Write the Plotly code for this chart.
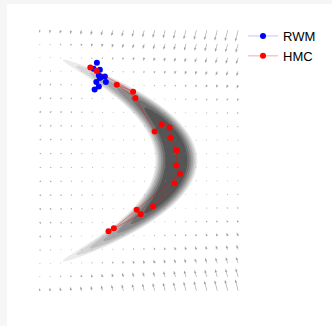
import numpy as np
import plotly.graph_objects as go

# ---------------- data ----------------
rwm_x = [-1.274, -1.373, -1.184, -1.214, -1.142, -1.184, -1.033, -1.003, -1.292, -1.214, -1.343]
rwm_y = [2.255, 2.116, 2.093, 1.961, 1.922, 1.904, 1.938, 1.807, 1.807, 1.708, 1.638]

hmc_x = [-1.473, -1.283, -0.178, -0.672, -0.108, 0.473, 0.684, 0.925, 0.955, 1.136,
         1.127, 1.238, -0.069, -0.762, -0.922, 0.051, 0.425, 1.075]
hmc_y = [2.146, 2.061, 1.585, 1.747, 1.438, 0.669, 0.838, 0.761, 0.524, 0.237,
         -0.116, -0.307, -1.138, -1.563, -1.632, -1.240, -1.062, -0.524]

series_names = ["RWM", "HMC"]

# banana target parameters
ridge_c = 1.13
ridge_b = 0.63
sig_x = 0.282
sig_y = 1.036

# quiver grid
grid_x = np.linspace(-3, 3, 20)
grid_y = np.linspace(-3, 3, 20)

# ---------------- layout geometry ----------------
W, H = 332, 326
ml, mr, mt, mb = 20, 73, 13, 18
xr = [-3.6, 3.6]
yr = [-3.4, 3.4]
pw = W - ml - mr
ph = H - mt - mb
px_x = pw / (xr[1] - xr[0])
px_y = ph / (yr[1] - yr[0])


def logp(x, y):
    r = x - ridge_c + ridge_b * y ** 2
    return -y ** 2 / (2 * sig_y ** 2) - r ** 2 / (2 * sig_x ** 2)


def grad(x, y):
    r = x - ridge_c + ridge_b * y ** 2
    gx = -r / sig_x ** 2
    gy = -y / sig_y ** 2 - r * 2 * ridge_b * y / sig_x ** 2
    return gx, gy


fig = go.Figure()

# density contours
cx = np.linspace(xr[0], xr[1], 300)
cy = np.linspace(yr[0], yr[1], 300)
XX, YY = np.meshgrid(cx, cy)
Z = logp(XX, YY)
lev_lo, lev_hi, nlev = np.log(0.08), np.log(0.5), 7
size = (lev_hi - lev_lo) / (nlev - 1)
band_cols = ["#ffffff", "#ebebeb", "#d6d6d6", "#bfbfbf", "#a6a6a6", "#8b8b8b", "#6f6f6f", "#555555"]
cscale = [[i / nlev, c] for i, c in enumerate(band_cols)]
fig.add_trace(go.Contour(
    x=cx, y=cy, z=Z, colorscale=cscale, showscale=False,
    contours=dict(start=lev_lo, end=lev_hi + 1e-9, size=size, coloring="fill", showlines=False),
    line=dict(width=0), hoverinfo="skip", showlegend=False))

# quiver arrows (polygons in screen space converted to data)
GX, GY = np.meshgrid(grid_x, grid_y)
U, V = grad(GX, GY)
M = np.hypot(U, V)
k = 11.5 / M.max()
w = 0.5
qx, qy = [], []
for i in range(GX.shape[0]):
    for j in range(GX.shape[1]):
        L = k * M[i, j]
        dxs, dys = U[i, j] / M[i, j], -V[i, j] / M[i, j]  # screen direction (y down)
        nxs, nys = -dys, dxs
        L = max(L, 0.8)
        hl = min(3.0, L)
        hw = 0.8 * hl / 3.0 + 0.3
        pts = [(-w / 2, 0), (-w / 2, L - hl), (-hw, L - hl), (0, L), (hw, L - hl), (w / 2, L - hl), (w / 2, 0)]
        for (o, a) in pts:
            sx = a * dxs + o * nxs
            sy = a * dys + o * nys
            qx.append(GX[i, j] + sx / px_x)
            qy.append(GY[i, j] - sy / px_y)
        qx.append(None)
        qy.append(None)
fig.add_trace(go.Scatter(x=qx, y=qy, mode="lines", fill="toself", fillcolor="rgba(135,135,135,0.8)",
                         line=dict(color="rgba(150,150,150,0.4)", width=0.2), hoverinfo="skip", showlegend=False))

# samplers
fig.add_trace(go.Scatter(x=rwm_x, y=rwm_y, mode="lines+markers", name=series_names[0],
                         line=dict(color="rgba(0,0,255,0.3)", width=0.8),
                         marker=dict(color="#0000ff", size=6)))
fig.add_trace(go.Scatter(x=hmc_x, y=hmc_y, mode="lines+markers", name=series_names[1],
                         line=dict(color="rgba(255,0,0,0.45)", width=0.8),
                         marker=dict(color="#ff0000", size=6)))

fig.update_xaxes(range=xr, visible=False, showgrid=False, zeroline=False)
fig.update_yaxes(range=yr, visible=False, showgrid=False, zeroline=False)

fig.add_shape(type="rect", xref="paper", yref="paper",
              x0=(7 - ml) / pw, x1=(W - ml + 5) / pw, y0=-(mb + 5) / ph, y1=1 + (mt - 4) / ph,
              fillcolor="white", line=dict(width=0), layer="below")

fig.update_layout(
    width=W, height=H, margin=dict(l=ml, r=mr, t=mt, b=mb),
    paper_bgcolor="#f6f6f6", plot_bgcolor="white",
    font=dict(family="Liberation Sans, Arial, sans-serif", size=13, color="black"),
    legend=dict(x=(243 - ml) / pw, y=1 - (21 - mt) / ph, xanchor="left", yanchor="top",
                bgcolor="rgba(0,0,0,0)", itemwidth=30, tracegroupgap=0,
                font=dict(size=13)),
    showlegend=True,
)

fig.write_html("out.html")
